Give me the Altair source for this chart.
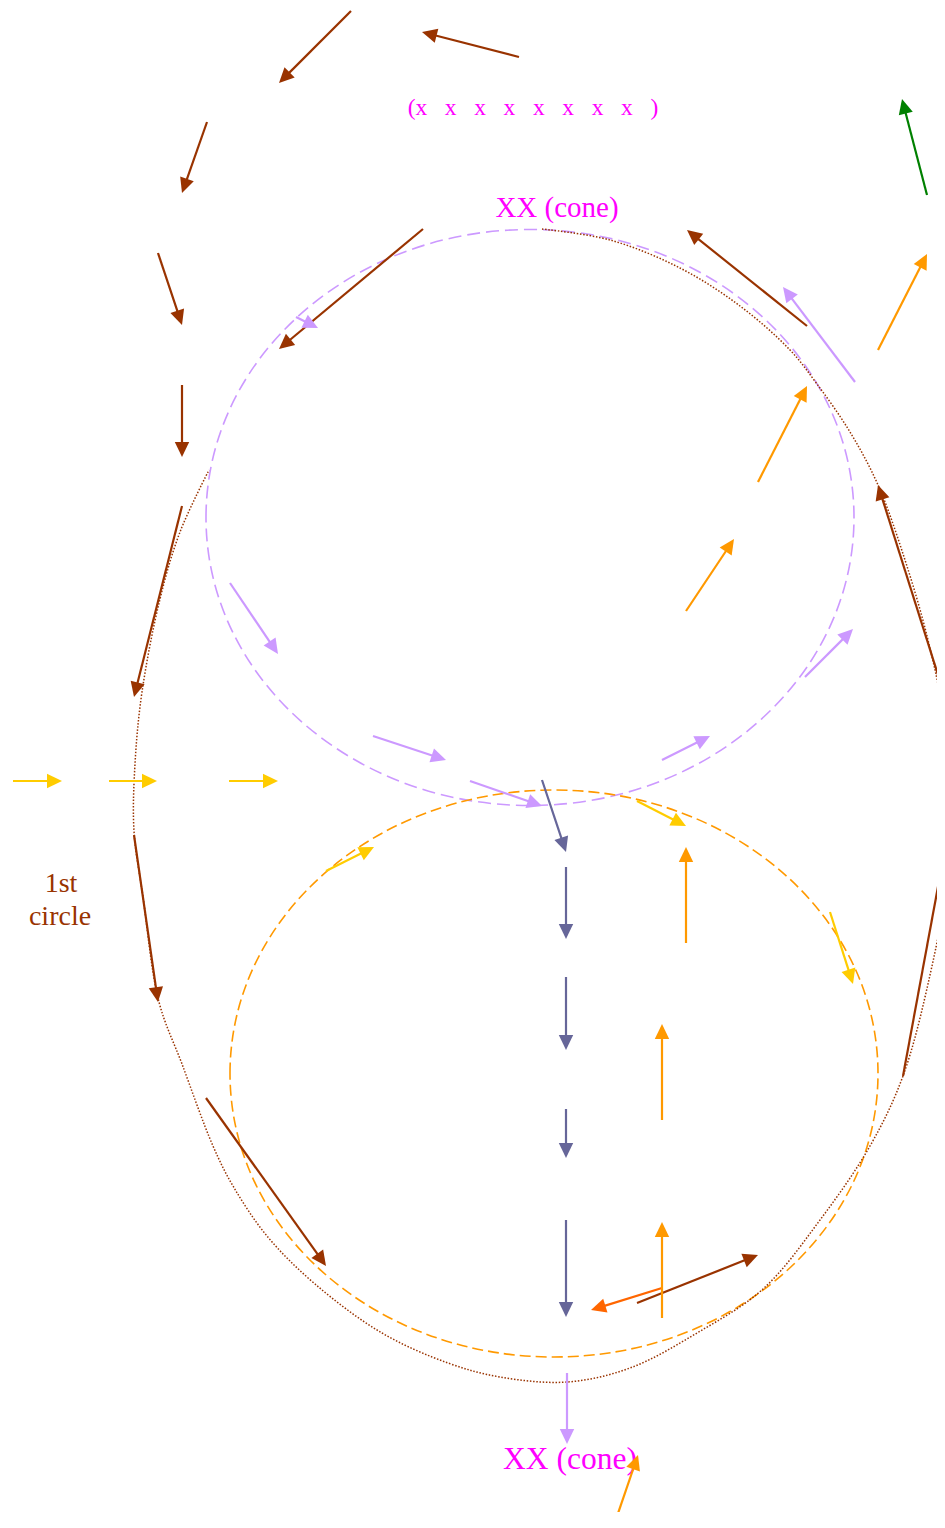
import math
import altair as alt
import pandas as pd

# ---------------- data (pixel units) ----------------
arrow_color = (
    ["#993300"] * 13
    + ["#ff6600"]
    + ["#cc99ff"] * 8
    + ["#666699"] * 5
    + ["#ff9900"] * 7
    + ["#ffcc00"] * 6
    + ["#008000"]
)
arrow_x0 = [351, 519, 207, 158, 423, 182, 182, 134, 206, 807, 946, 903, 637,
            662,
            855, 296, 230, 373, 470, 662, 805, 567,
            542, 566, 566, 566, 566,
            878, 758, 686, 686, 662, 662, 613,
            13, 109, 229, 326, 637, 830,
            927]
arrow_y0 = [11, 57, 122, 253, 229, 385, 506, 835, 1098, 326, 700, 1076, 1303,
            1288,
            382, 317, 583, 736, 781, 760, 677, 1373,
            780, 867, 977, 1109, 1220,
            350, 482, 611, 943, 1120, 1318, 1528,
            781, 781, 781, 871, 801, 912,
            195]
arrow_x1 = [279, 422, 182, 182, 279, 182, 134, 158, 326, 687, 878, 947, 758,
            591,
            783, 318, 278, 446, 542, 710, 853, 567,
            566, 566, 566, 566, 566,
            927, 807, 734, 686, 662, 662, 638,
            62, 157, 278, 374, 686, 853,
            902]
arrow_y1 = [83, 32, 193, 325, 349, 457, 697, 1002, 1266, 230, 485, 838, 1255,
            1310,
            287, 328, 654, 760, 806, 736, 629, 1444,
            852, 939, 1050, 1158, 1317,
            254, 386, 539, 847, 1024, 1222, 1455,
            781, 781, 781, 847, 826, 984,
            99]

# dotted brown outline
path_x = [542, 610, 680, 740, 790, 817, 850, 878, 905, 928, 943, 947, 945, 930,
          903, 870, 820, 763, 697, 630, 567, 500, 448, 382, 315, 267, 233, 213,
          182, 159, 143, 134, 135, 142, 160, 180, 209]
path_y = [229, 240, 268, 306, 350, 384, 432, 485, 560, 640, 715, 800, 891, 975,
          1076, 1146, 1220, 1289, 1333, 1368, 1382, 1377, 1363, 1333, 1284, 1236,
          1186, 1146, 1064, 1002, 897, 831, 764, 692, 599, 532, 470]

# dashed ellipses: centre and semi-axes
ell_name = ["upper", "lower"]
ell_cx = [530, 554]
ell_cy = [517.5, 1073.5]
ell_rx = [324, 324]
ell_ry = [288, 283.5]
ell_color = ["#cc99ff", "#ff9900"]
ell_dash = [[13, 6], [11, 5]]

# labels
label_text = ["(x\u00a0\u00a0\u00a0x\u00a0\u00a0\u00a0x\u00a0\u00a0\u00a0x\u00a0\u00a0\u00a0x\u00a0\u00a0\u00a0x\u00a0\u00a0\u00a0x\u00a0\u00a0\u00a0x\u00a0\u00a0\u00a0)",
              "XX (cone)", "XX (cone)", "1st", "circle"]
label_x = [533, 557, 570, 61, 60]
label_y = [115, 217, 1469, 892, 925]
label_color = ["#ff00ff", "#ff00ff", "#ff00ff", "#993300", "#993300"]
label_size = [23.5, 29, 31.5, 28, 28]

# ---------------- build tables ----------------
arrows = pd.DataFrame({"color": arrow_color, "x0": arrow_x0, "y0": arrow_y0,
                       "x1": arrow_x1, "y1": arrow_y1})
HEAD = 15.0
dx = arrows.x1 - arrows.x0
dy = arrows.y1 - arrows.y0
length = (dx ** 2 + dy ** 2) ** 0.5
arrows["angle"] = [(math.degrees(math.atan2(a, -b)) + 360) % 360 for a, b in zip(dx, dy)]
arrows["xe"] = arrows.x1 - dx / length * (HEAD * 0.6)
arrows["ye"] = arrows.y1 - dy / length * (HEAD * 0.6)

path = pd.DataFrame({"x": path_x, "y": path_y, "i": range(len(path_x))})
labels = pd.DataFrame({"t": label_text, "x": label_x, "y": label_y,
                       "c": label_color, "s": label_size})

W, H = 929, 1504
XS = alt.Scale(domain=[8, 8 + W], nice=False, zero=False)
YS = alt.Scale(domain=[8, 8 + H], nice=False, zero=False, reverse=True)

HEAD_PATH = "M0,0 L0.48,1 L-0.48,1 Z"

layers = []

# ellipses
for n, cx, cy, rx, ry, col, dash in zip(ell_name, ell_cx, ell_cy, ell_rx, ell_ry,
                                        ell_color, ell_dash):
    k = ry / rx
    shape = f"M-1,0 A1,{k:.4f} 0 1,1 1,0 A1,{k:.4f} 0 1,1 -1,0 Z"
    e = pd.DataFrame({"name": [n], "cx": [cx], "cy": [cy]})
    layers.append(
        alt.Chart(e).mark_point(shape=shape, size=4 * rx * rx, filled=False,
                                color=col, strokeWidth=1.6, strokeDash=dash,
                                opacity=1)
        .encode(x=alt.X("cx:Q", scale=XS, axis=None),
                y=alt.Y("cy:Q", scale=YS, axis=None))
    )

# dotted outline
layers.append(
    alt.Chart(path).mark_line(color="#993300", strokeWidth=1.5,
                              strokeDash=[1.5, 1.7], interpolate="catmull-rom")
    .encode(x=alt.X("x:Q", scale=XS, axis=None),
            y=alt.Y("y:Q", scale=YS, axis=None),
            order=alt.Order("i:Q"))
)

# labels
layers.append(
    alt.Chart(labels).mark_text(font="Liberation Serif", align="center",
                                baseline="alphabetic")
    .encode(x=alt.X("x:Q", scale=XS, axis=None),
            y=alt.Y("y:Q", scale=YS, axis=None),
            text="t:N",
            color=alt.Color("c:N", scale=None),
            size=alt.Size("s:Q", scale=None))
)

# arrow shafts
layers.append(
    alt.Chart(arrows).mark_rule(strokeWidth=2.2)
    .encode(x=alt.X("x0:Q", scale=XS, axis=None),
            y=alt.Y("y0:Q", scale=YS, axis=None),
            x2="xe:Q", y2="ye:Q",
            color=alt.Color("color:N", scale=None))
)

# arrow heads
layers.append(
    alt.Chart(arrows).mark_point(shape=HEAD_PATH, size=4 * HEAD * HEAD,
                                 filled=True, opacity=1, strokeWidth=0)
    .encode(x=alt.X("x1:Q", scale=XS, axis=None),
            y=alt.Y("y1:Q", scale=YS, axis=None),
            angle=alt.Angle("angle:Q", scale=None),
            color=alt.Color("color:N", scale=None))
)

chart = (
    alt.layer(*layers)
    .properties(width=W, height=H, padding=0,
                autosize=alt.AutoSizeParams(type="none"))
    .configure_view(strokeWidth=0)
)

chart.save("out.html", embed_options={"renderer": "svg", "actions": False})
